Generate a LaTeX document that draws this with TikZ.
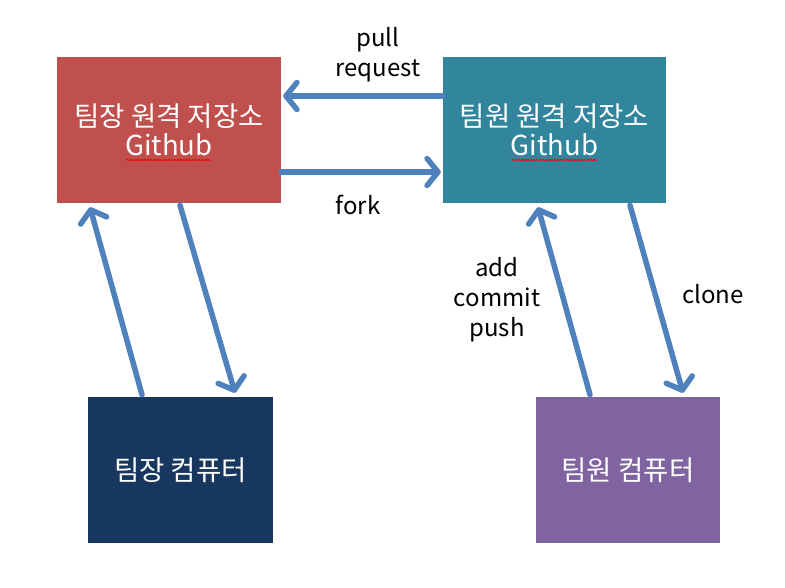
\documentclass[tikz,border=0pt]{standalone}
\usepackage{fontspec}
\setmainfont{Noto Sans CJK KR}
\usetikzlibrary{arrows.meta,decorations.pathmorphing}
\definecolor{cred}{HTML}{C0504D}
\definecolor{cteal}{HTML}{31859C}
\definecolor{cnavy}{HTML}{17375E}
\definecolor{cpurple}{HTML}{8064A2}
\definecolor{carrow}{HTML}{4F81BD}
\tikzset{
  box/.style={draw=none, inner sep=0pt, minimum height=146pt, text=white, align=center,
    font=\fontsize{27.5}{29}\selectfont},
  link/.style={carrow, line width=5.5pt, line cap=round,
    -{Straight Barb[length=11pt,width=27pt,round]}},
  lbl/.style={align=center, font=\fontsize{24}{30}\selectfont, text=black},
  squig/.style={red, line width=0.8pt, decorate,
    decoration={snake, segment length=3pt, amplitude=0.8pt}}
}
\begin{document}
\begin{tikzpicture}[x=1pt,y=-1pt]
\useasboundingbox[fill=white] (0,0) rectangle (785,587);
\node[box, fill=cred, minimum width=224pt] (lr) at (169,130) {팀장 원격 저장소\\Github};
\node[box, fill=cteal, minimum width=223pt] (mr) at (554.5,130) {팀원 원격 저장소\\Github};
\node[box, fill=cnavy, minimum width=185pt] (lp) at (180.5,470) {팀장 컴퓨터};
\node[box, fill=cpurple, minimum width=184pt] (mp) at (628,470) {팀원 컴퓨터};
\draw[squig] (126,160) -- (211,160);
\draw[squig] (512,160) -- (597,160);
% pull request / fork
\draw[link] ([yshift=34pt]mr.west) -- ([xshift=2pt,yshift=34pt]lr.east);
\draw[link] ([yshift=-42pt]lr.east) -- ([xshift=-2pt,yshift=-42pt]mr.west);
% leader
\draw[link] ([xshift=-38.5pt,yshift=2pt]lp.north) -- ([xshift=-79pt,yshift=-4pt]lr.south);
\draw[link] ([xshift=11pt,yshift=-2pt]lr.south) -- ([xshift=54.5pt,yshift=4pt]lp.north);
% member
\draw[link] ([xshift=-38pt,yshift=2pt]mp.north) -- ([xshift=-16.5pt,yshift=-4pt]mr.south);
\draw[link] ([xshift=75.5pt,yshift=-2pt]mr.south) -- ([xshift=55pt,yshift=4pt]mp.north);
% labels
\node[lbl] (tpr) at (378,55) {pull\\request};
\node[lbl] (tfk) at (358,205) {fork};
\node[lbl] (tacp) at (497,300) {add\\commit\\push};
\node[lbl] (tcl) at (713,294) {clone};
\end{tikzpicture}
\end{document}
